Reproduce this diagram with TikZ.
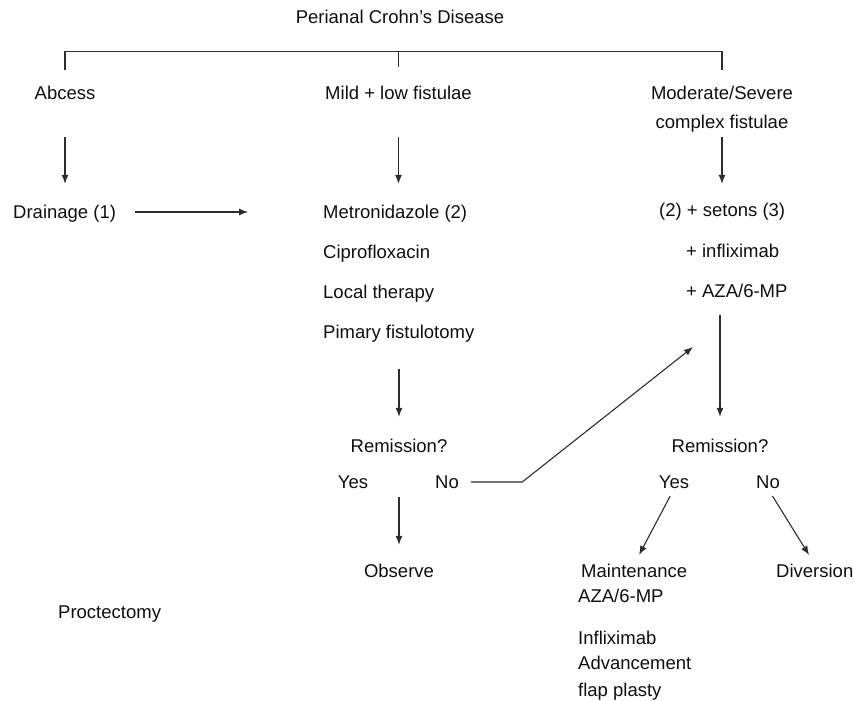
\documentclass[tikz,border=0pt]{standalone}
\usepackage{fontspec}
\setmainfont{Liberation Sans}
\usepackage{tikz}
\usetikzlibrary{arrows.meta,positioning,calc}
\definecolor{ink}{RGB}{15,15,15}
\definecolor{wire}{RGB}{45,45,45}

\begin{document}
\begin{tikzpicture}[
    x=1pt, y=-1pt,
    txt/.style={inner sep=0pt, text height=13.2pt, text depth=0pt, font=\fontsize{18.5}{22}\selectfont, text=ink},
    lft/.style={txt, anchor=west},
    line/.style={draw=wire, line width=1.1pt},
    arrow/.style={line, -{Latex[length=9pt,width=7pt]}}
]
\useasboundingbox (0,0) rectangle (854,701);

% Title and first split
\node[txt] (title) at (400,17) {Perianal Crohn’s Disease};
\node[txt] (abcess) at (65,93) {Abcess};
\node[txt] (mild_fist) at (398.5,93) {Mild + low fistulae};
\node[txt] (mod_fist) at (722,93) {Moderate/Severe};
\node[txt] (cplx_fist) at (722,122) {complex fistulae};

% Treatments
\node[lft] (drain) at (13,212) {Drainage (1)};
\node[lft] (metro) at (323,212) {Metronidazole (2)};
\node[lft, below right=26.5pt and 0pt of metro.south west] (cipro) {Ciprofloxacin};
\node[lft, below right=26.5pt and 0pt of cipro.south west] (local) {Local therapy};
\node[lft, below right=26.5pt and 0pt of local.south west] (fistulot) {Pimary fistulotomy};

\node[lft] (setons) at (659,210) {(2) + setons (3)};
\node[lft, below right=26.8pt and 27pt of setons.south west] (inflix) {+ infliximab};
\node[lft, below right=26.8pt and 0pt of inflix.south west] (aza) {+ AZA/6-MP};

% Remission checks
\node[txt] (rem_l) at (399,446) {Remission?};
\node[txt] (yes_l) at (353,482) {Yes};
\node[txt] (no_l) at (447,482) {No};
\node[txt] (observe) at (399,571) {Observe};

\node[txt] (rem_r) at (720,446) {Remission?};
\node[txt] (yes_r) at (674,482) {Yes};
\node[txt] (no_r) at (768,482) {No};
\node[lft] (maint) at (581,571) {Maintenance};
\node[lft] (aza_m) at (578,596) {AZA/6-MP};
\node[lft] (divers) at (776,571) {Diversion};
\node[lft] (inflix_m) at (578,638) {Infliximab};
\node[lft] (advance) at (578,663) {Advancement};
\node[lft] (flap) at (578,690) {flap plasty};

\node[lft] (proct) at (58,612) {Proctectomy};

% Bracket
\draw[line] ([yshift=16.4pt]abcess.north) -- ([yshift=34.4pt]abcess.north)
    -- ([yshift=34.4pt]mod_fist.north) -- ([yshift=16.4pt]mod_fist.north);
\draw[line] ([yshift=34.4pt]mild_fist.north) -- ([yshift=19.4pt]mild_fist.north);

% Arrows
\draw[arrow, shorten <=37.4pt, shorten >=21.4pt] (abcess.south) -- (abcess.south |- drain.north);
\draw[arrow, shorten <=37.4pt, shorten >=21.4pt] (mild_fist.south) -- (mild_fist.south |- metro.north);
\draw[arrow, shorten <=8.4pt, shorten >=19.4pt] (cplx_fist.south) -- (cplx_fist.south |- setons.north);
\draw[arrow, shorten <=19.2pt, shorten >=75pt] (drain.east) -- (metro.west);

\draw[arrow, shorten <=29.4pt, shorten >=22.4pt] (rem_l.north |- fistulot.south) -- (rem_l.north);
\draw[arrow, shorten <=17.4pt, shorten >=22.4pt] (rem_r.north |- aza.south) -- (rem_r.north);
\draw[arrow, shorten <=8.4pt, shorten >=19.4pt] (observe.north |- yes_l.south) -- (observe.north);

% No -> back to setons
\coordinate (retry) at (693,347);
\draw[arrow, shorten <=12.2pt] (no_l.east) -- ++(63.2,0) -- (retry);

\draw[arrow, shorten <=8.3pt, shorten >=10.6pt] (yes_r.south) -- (maint.north);
\draw[arrow, shorten <=8.5pt, shorten >=10.8pt] (no_r.south) -- (divers.north);

\end{tikzpicture}
\end{document}
